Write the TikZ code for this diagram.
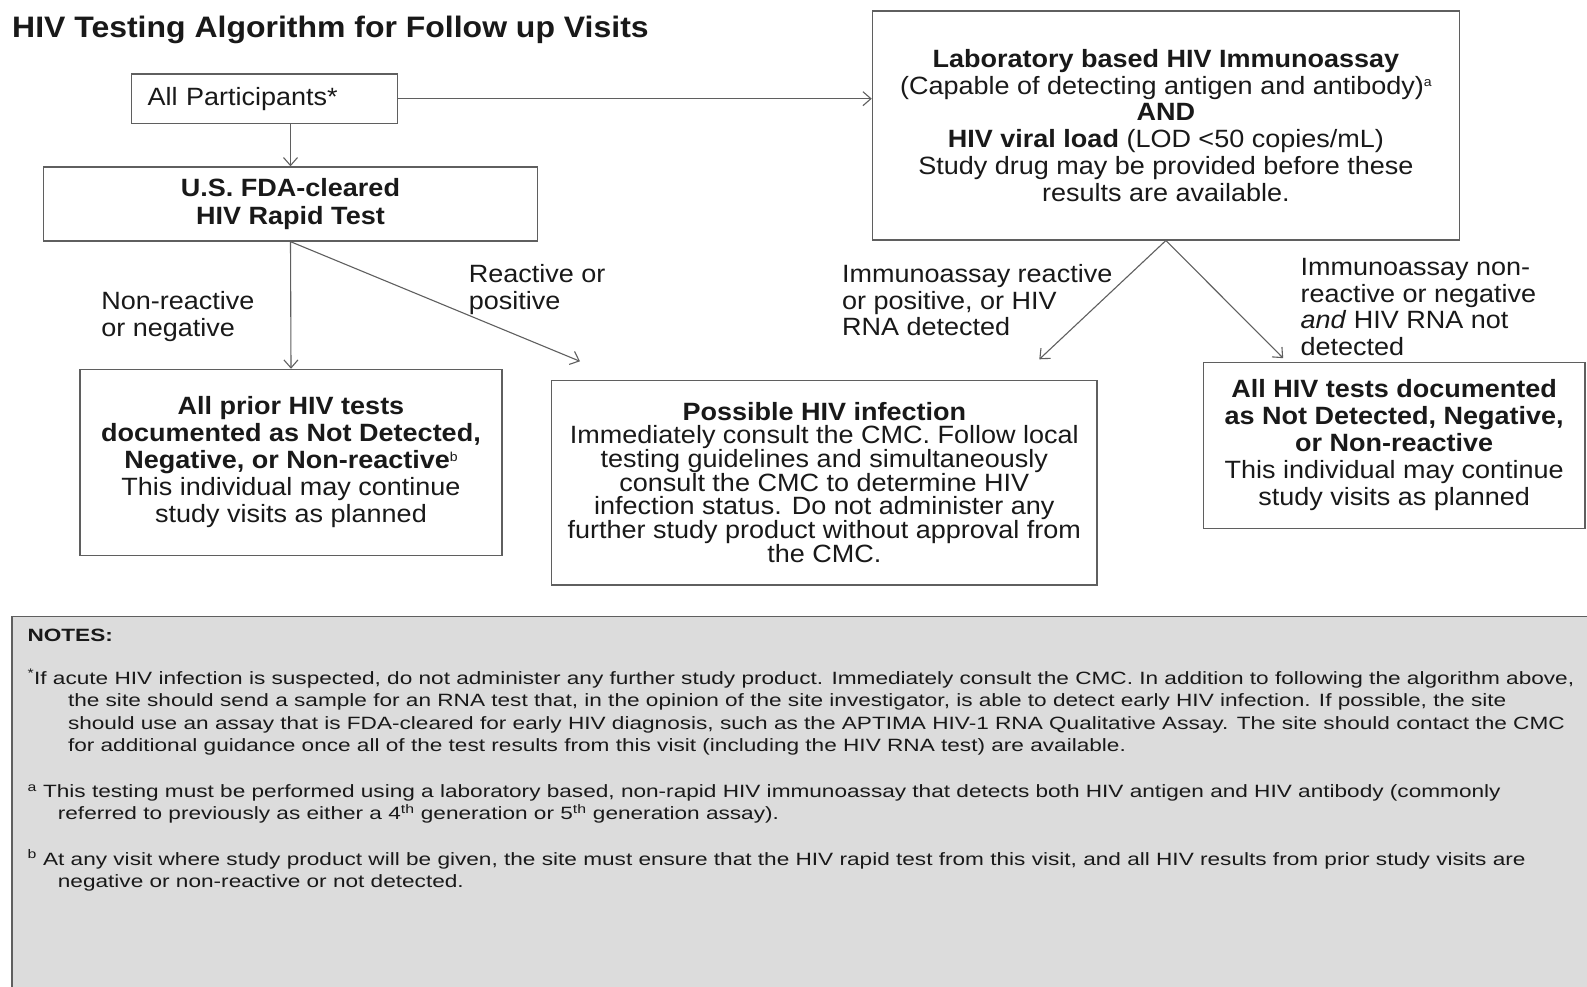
\documentclass[tikz,border=0pt]{standalone}
\usepackage{fontspec}
\setmainfont[FakeStretch=1.08]{Liberation Sans}
\newfontfamily\notesfont[FakeStretch=1.27]{Liberation Sans}
\usetikzlibrary{arrows.meta}
\definecolor{linegray}{RGB}{95,95,95}
\definecolor{txt}{RGB}{25,25,25}
\definecolor{notesbg}{RGB}{220,220,220}
\newcommand{\smallsup}[1]{\raisebox{0.3em}{\fontsize{13}{13}\selectfont #1}}
\tikzset{
  box/.style={draw=linegray, line width=1.3pt, inner sep=0pt, align=center, text=txt},
  lbl/.style={inner sep=0pt, align=left, text=txt, anchor=north west, font=\fontsize{25}{26.5}\selectfont},
  arr/.style={draw=linegray, line width=1.1pt, -{Straight Barb[length=8pt,width=14pt]}},
  noteln/.style={inner sep=0pt, anchor=base west, text=txt, font=\notesfont\fontsize{17.8}{22.3}\selectfont},
}
\begin{document}
\begin{tikzpicture}[x=1pt,y=-1pt]
\useasboundingbox (0,0) rectangle (1587,987);
\fill[white] (0,0) rectangle (1587,987);

% title
\node[inner sep=0pt, anchor=base west, text=txt, font=\fontsize{29.6}{30}\selectfont\bfseries] (title) at (12,37.5) {HIV Testing Algorithm for Follow up Visits};

% boxes
\node[box, minimum width=266pt, minimum height=49.6pt, text width=234pt, align=left, font=\fontsize{25}{27}\selectfont] (A) at (264.7,98.7) {All Participants*};
\node[box, minimum width=494pt, minimum height=74pt, font=\fontsize{25}{27.6}\selectfont] (B) at (290.5,204) {\textbf{U.S. FDA-cleared}\\\textbf{HIV Rapid Test}};
\node[box, minimum width=587pt, minimum height=228.7pt, font=\fontsize{25}{26.9}\selectfont] (C) at (1165.9,125.5) {\textbf{Laboratory based HIV Immunoassay}\\(Capable of detecting antigen and antibody)\smallsup{a}\\\textbf{AND}\\\textbf{HIV viral load} (LOD <50 copies/mL)\\Study drug may be provided before these\\results are available.};
\node[box, minimum width=422pt, minimum height=186.2pt, font=\fontsize{25}{27}\selectfont] (D) at (291,462.5) {\textbf{All prior HIV tests}\\\textbf{documented as Not Detected,}\\\textbf{Negative, or Non-reactive}\smallsup{b}\\This individual  may continue\\study visits as planned};
\node[box, minimum width=545.4pt, minimum height=204.5pt, font=\fontsize{25}{22.6}\selectfont] (E) at (824.3,482.8) {\textbf{Possible HIV infection}\\Immediately consult the CMC. Follow local\\testing guidelines and simultaneously\\consult the CMC to determine HIV\\infection status. Do not administer any\\further study product without approval from\\the CMC.};
\node[box, minimum width=381.7pt, minimum height=166pt, font=\fontsize{25}{27}\selectfont] (F) at (1394.2,445.3) {\textbf{All HIV tests documented}\\\textbf{as Not Detected, Negative,}\\\textbf{or Non-reactive}\\This individual  may continue\\study visits as planned};

% free ends
\coordinate (eB) at (580,361.3);
\coordinate (eC1) at (1039.3,359.3);
\coordinate (eC2) at (1283.2,358.2);

% connectors
\draw[arr] (B.north |- A.south) -- (B.north);
\draw[arr] (A.east) -- (A.east -| C.west);
\draw[arr] (B.south) -- (D.north);
\draw[arr] (B.south) -- (eB);
\draw[arr] (C.south) -- (eC1);
\draw[arr] (C.south) -- (eC2);

% labels
\node[lbl] (l1) at (101.2,291.6) {Non-reactive\\or negative};
\node[lbl] (l2) at (468.6,264.2) {Reactive or\\positive};
\node[lbl] (l3) at (842,264.2) {Immunoassay  reactive\\or positive, or HIV\\RNA detected};
\node[lbl] (l4) at (1300.4,258.2) {Immunoassay  non-\\reactive or negative\\\textit{and} HIV RNA not\\detected};

% notes
\begin{scope}
\clip (0,0) rectangle (1587,987);
\filldraw[fill=notesbg, draw=linegray, line width=1.5pt] (12,616.3) rectangle (1600,1000);
\end{scope}
\node[noteln, font=\notesfont\fontsize{17.8}{22.3}\selectfont\bfseries] (nt) at (27.3,641) {NOTES:};
\node[noteln] (n1) at (27.3,684) {\textsuperscript{*}If acute HIV infection is suspected, do not administer any further study product. Immediately consult the CMC. In addition to following the algorithm above,};
\node[noteln] (n2) at (67.8,706.3) {the site should send a sample for an RNA test that, in the opinion of the site investigator, is able to detect early HIV infection. If possible, the site};
\node[noteln] (n3) at (67.8,729.6) {should use an assay that is FDA-cleared for early HIV diagnosis, such as the APTIMA HIV-1 RNA Qualitative Assay. The site should contact the CMC};
\node[noteln] (n4) at (67.8,751.8) {for additional guidance once all of the test results from this visit (including the HIV RNA test) are available.};
\node[noteln] (n5) at (27.3,797.4) {\textsuperscript{a} This testing must be performed using a laboratory based, non-rapid HIV immunoassay that detects both HIV antigen and HIV antibody (commonly};
\node[noteln] (n6) at (57.7,819.6) {referred to previously as either a 4\textsuperscript{th} generation or 5\textsuperscript{th} generation assay).};
\node[noteln] (n7) at (27.3,865.2) {\textsuperscript{b} At any visit where study product will be given, the site must ensure that the HIV rapid test from this visit, and all HIV results from prior study visits are};
\node[noteln] (n8) at (57.7,887.5) {negative or non-reactive or not detected.};
\end{tikzpicture}
\end{document}
